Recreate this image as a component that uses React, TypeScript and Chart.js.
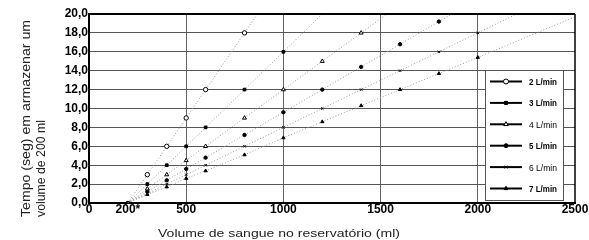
import React, { useEffect, useRef } from 'react';
import { Chart, registerables } from 'chart.js';
import { drawPoint } from 'chart.js/helpers';

Chart.register(...registerables);

// ---- data ----
const seriesLabels = ['2 L/min', '3 L/min', '4 L/min', '5 L/min', '6 L/min', '7 L/min'];

const volumes2 = [200, 300, 400, 500, 600, 800];
const times2 = [0, 3.0, 6.0, 9.0, 12.0, 18.0];

const volumes3 = [200, 300, 400, 500, 600, 800, 1000];
const times3 = [0, 2.0, 4.0, 6.0, 8.0, 12.0, 16.0];

const volumes4 = [200, 300, 400, 500, 600, 800, 1000, 1200, 1400];
const times4 = [0, 1.5, 3.0, 4.5, 6.0, 9.0, 12.0, 15.0, 18.0];

const volumes5 = [200, 300, 400, 500, 600, 800, 1000, 1200, 1400, 1600, 1800];
const times5 = [0, 1.2, 2.4, 3.6, 4.8, 7.2, 9.6, 12.0, 14.4, 16.8, 19.2];

const volumes6 = [200, 300, 400, 500, 600, 800, 1000, 1200, 1400, 1600, 1800, 2000];
const times6 = [0, 1.0, 2.0, 3.0, 4.0, 6.0, 8.0, 10.0, 12.0, 14.0, 16.0, 18.0];

const volumes7 = [200, 300, 400, 500, 600, 800, 1000, 1200, 1400, 1600, 1800, 2000];
const times7 = [0, 0.9, 1.7, 2.6, 3.4, 5.1, 6.9, 8.6, 10.3, 12.0, 13.7, 15.4];

// where each dotted trend line leaves the plot area
const lineEndVolumes = [867, 1200, 1533, 1867, 2200, 2500];
const lineEndTimes = [20, 20, 20, 20, 20, 19.7];

const xTickValues = [0, 200, 500, 1000, 1500, 2000, 2500];
const xTickLabels = ['0', '200*', '500', '1000', '1500', '2000', '2500'];
const xGridValues = [500, 1000, 1500, 2000];

const yTitleLines = ['Tempo (seg) em armazenar um', 'volume de 200 ml'];
const xTitle = 'Volume de sangue no reservatório (ml)';

// ---- styles ----
const seriesVolumes = [volumes2, volumes3, volumes4, volumes5, volumes6, volumes7];
const seriesTimes = [times2, times3, times4, times5, times6, times7];
const markerStyles = ['circle', 'rect', 'triangle', 'circle', 'crossRot', 'triangle'];
const markerFills = ['#fff', '#000', '#fff', '#000', '#000', '#000'];
const markerRadii = [2.2, 1.9, 2.3, 1.7, 1.7, 1.9];
const legendWeights = ['bold', 'bold', 'normal', 'bold', 'normal', 'bold'];

const FONT = '"Liberation Sans", Arial, sans-serif';

const framePlugin = {
  id: 'frameAndTitles',
  afterDraw(chart: any) {
    const { ctx, chartArea } = chart;
    const { left, right, top, bottom } = chartArea;
    ctx.save();
    // top and right frame
    ctx.strokeStyle = '#000';
    ctx.setLineDash([]);
    ctx.lineWidth = 2;
    ctx.beginPath();
    ctx.moveTo(left - 1, top);
    ctx.lineTo(right, top);
    ctx.stroke();
    ctx.lineWidth = 1.5;
    ctx.beginPath();
    ctx.moveTo(right, top);
    ctx.lineTo(right, bottom + 1);
    ctx.stroke();

    // y title (two lines, rotated, starting at the bottom)
    ctx.fillStyle = '#222';
    ctx.font = `12px ${FONT}`;
    ctx.textBaseline = 'alphabetic';
    ctx.textAlign = 'left';
    const yTitleX = [29.5, 45];
    const yTitleLen = [197, 97];
    yTitleLines.forEach((t, i) => {
      const w = ctx.measureText(t).width;
      ctx.save();
      ctx.translate(yTitleX[i], 217);
      ctx.rotate(-Math.PI / 2);
      ctx.scale(yTitleLen[i] / w, 1);
      ctx.fillText(t, 0, 0);
      ctx.restore();
    });

    // x title
    ctx.font = `11px ${FONT}`;
    const wx = ctx.measureText(xTitle).width;
    ctx.save();
    ctx.translate(158, 236.5);
    ctx.scale(242 / wx, 1);
    ctx.fillText(xTitle, 0, 0);
    ctx.restore();

    // legend box
    const bx = 485.5, by = 70.5, bw = 78, bh = 130;
    ctx.fillStyle = '#fff';
    ctx.fillRect(bx, by, bw, bh);
    ctx.strokeStyle = '#555';
    ctx.lineWidth = 1;
    ctx.strokeRect(bx, by, bw, bh);
    chart.data.datasets.forEach((ds: any, i: number) => {
      const y = 81.5 + i * 21.4;
      ctx.strokeStyle = '#000';
      ctx.lineWidth = 2;
      ctx.beginPath();
      ctx.moveTo(490, y);
      ctx.lineTo(522, y);
      ctx.stroke();
      ctx.fillStyle = markerFills[i];
      ctx.strokeStyle = '#000';
      ctx.lineWidth = 1;
      drawPoint(ctx, { pointStyle: markerStyles[i], radius: markerRadii[i] + 0.3, borderWidth: 1, rotation: 0 } as any, 506, y);
      ctx.fillStyle = '#000';
      ctx.font = `${legendWeights[i]} 9.5px ${FONT}`;
      const tw = ctx.measureText(ds.label).width;
      ctx.save();
      ctx.translate(529, y + 3.4);
      ctx.scale(28 / tw, 1);
      ctx.fillText(ds.label, 0, 0);
      ctx.restore();
    });
    ctx.restore();
  },
};

export default function App() {
  const ref = useRef<HTMLCanvasElement>(null);
  useEffect(() => {
    if (!ref.current) return;
    const datasets = seriesLabels.map((label, i) => {
      const data = seriesVolumes[i].map((v, j) => ({ x: v, y: seriesTimes[i][j] }));
      data.push({ x: lineEndVolumes[i], y: lineEndTimes[i] });
      const openMarker = markerFills[i] === '#fff';
      return {
        label,
        data,
        showLine: true,
        borderColor: '#9a9a9a',
        borderWidth: 1,
        borderDash: [1, 2],
        pointStyle: markerStyles[i],
        pointBackgroundColor: markerFills[i],
        pointBorderColor: '#000',
        pointBorderWidth: 1,
        pointRadius: data.map((_, j) =>
          j === data.length - 1 || (j === 0 && openMarker) ? 0 : markerRadii[i]
        ),
        pointHoverRadius: 0,
        tension: 0,
      };
    });
    const chart = new Chart(ref.current, {
      type: 'scatter',
      data: { datasets } as any,
      options: {
        animation: false,
        responsive: false,
        maintainAspectRatio: false,
        layout: { padding: { top: 14, right: 14, left: 0, bottom: 0 } },
        plugins: { legend: { display: false }, tooltip: { enabled: false } },
        scales: {
          x: {
            type: 'linear',
            min: 0,
            max: 2500,
            afterBuildTicks: (s: any) => {
              s.ticks = xTickValues.map((v) => ({ value: v }));
            },
            afterFit: (s: any) => {
              s.height = 37;
            },
            ticks: {
              autoSkip: false,
              maxRotation: 0,
              padding: -1,
              color: '#000',
              font: { family: FONT, size: 12, weight: 'bold' },
              callback: (v: any) => {
                const k = xTickValues.indexOf(Number(v));
                return k >= 0 ? xTickLabels[k] : '';
              },
            },
            grid: {
              drawTicks: false,
              lineWidth: 1,
              color: (c: any) => (c.tick && xGridValues.includes(c.tick.value) ? '#666' : 'rgba(0,0,0,0)'),
            },
            border: { display: true, color: '#000', width: 2 },
          },
          y: {
            type: 'linear',
            min: 0,
            max: 20,
            afterFit: (s: any) => {
              s.width = 89;
            },
            ticks: {
              stepSize: 2,
              padding: 1,
              color: '#000',
              font: { family: FONT, size: 12, weight: 'bold' },
              callback: (v: any) => Number(v).toFixed(1).replace('.', ','),
            },
            grid: {
              drawTicks: false,
              lineWidth: 1,
              color: '#555',
            },
            border: { display: true, color: '#000', width: 2 },
          },
        },
      } as any,
      plugins: [framePlugin],
    });
    return () => chart.destroy();
  }, []);
  return (
    <div style={{ position: 'absolute', left: 0, top: 0, width: 589, height: 240, background: '#fff' }}>
      <canvas ref={ref} width={589} height={240} style={{ width: 589, height: 240, display: 'block' }} />
    </div>
  );
}
